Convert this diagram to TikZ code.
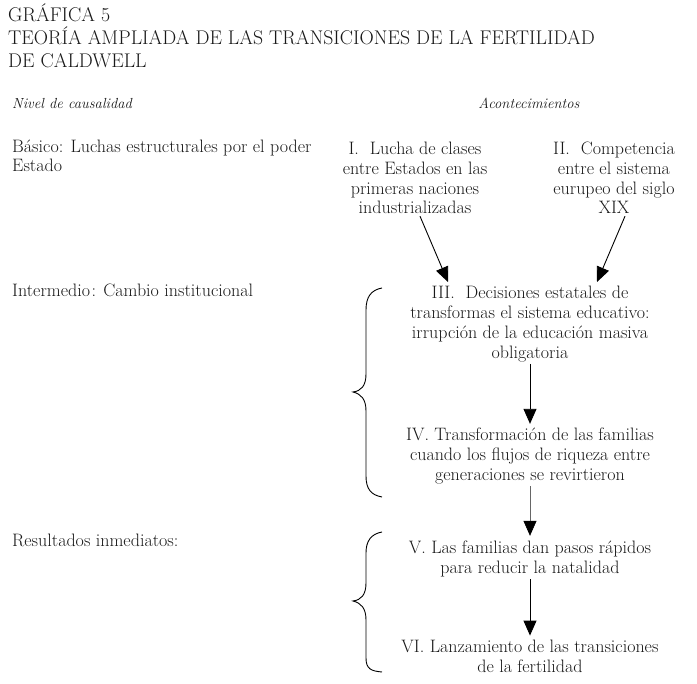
\documentclass[tikz,border=0pt]{standalone}
\usepackage{fontspec}
\usetikzlibrary{arrows.meta}
\begin{document}
\begin{tikzpicture}[x=1pt,y=-1pt,
  body/.style={font=\fontsize{18}{19.8}\selectfont, inner sep=2pt, text=black!90},
  ev/.style={body, align=center},
  lab/.style={body, anchor=base west, inner sep=0pt},
  hd/.style={font=\fontsize{14.6}{19.8}\selectfont\itshape, inner sep=0pt, text=black!90},
  ttl/.style={font=\fontsize{19.8}{22}\selectfont, anchor=base west, inner sep=0pt, text=black!90},
  arr/.style={line width=0.9pt, -{Triangle[width=13pt,length=15pt]}},
  brace/.style={line width=0.9pt}]
\useasboundingbox (0,0) rectangle (697,684);
% title
\node[ttl] (t1) at (8,22) {GRÁFICA 5};
\node[ttl] (t2) at (8,45) {TEORÍA AMPLIADA DE LAS TRANSICIONES DE LA FERTILIDAD};
\node[ttl] (t3) at (8,68) {DE CALDWELL};
% headers
\node[hd, anchor=base west] (h1) at (12,109) {Nivel de causalidad};
\node[hd, anchor=base] (h2) at (529,109) {Acontecimientos};
% levels
\node[lab, align=left] (l1) at (12,172) {Básico: Luchas estructurales por el poder\\Estado};
\node[lab] (l2) at (12,297) {Intermedio\kern1.5pt: Cambio institucional};
\node[lab] (l3) at (12,547) {Resultados inmediatos:};
% events
\node[ev] (I) at (415,178) {I.\ \ Lucha de clases\\entre Estados en las\\primeras naciones\\industrializadas};
\node[ev] (II) at (614,178) {II.\ \ Competencia\\entre el sistema\\eurupeo del siglo\\XIX};
\node[ev] (III) at (530,324) {III.\ \ Decisiones estatales de\\transformas el sistema educativo:\\irrupción de la educación masiva\\obligatoria};
\node[ev] (IV) at (530,456) {IV. Transformación de las familias\\cuando los flujos de riqueza entre\\generaciones se revirtieron};
\node[ev] (V) at (530,559) {V. Las familias dan pasos rápidos\\para reducir la natalidad};
\node[ev] (VI) at (530,656) {VI. Lanzamiento de las transiciones\\de la fertilidad};
% arrows
\draw[arr] ([xshift=5pt]I.south) -- ([xshift=-82pt,yshift=2pt]III.north);
\draw[arr] ([xshift=11pt]II.south) -- ([xshift=67pt,yshift=2pt]III.north);
\draw[arr] (III.south) -- ([yshift=2pt]IV.north);
\draw[line width=0.7pt, draw=black!60, -{Triangle[width=13pt,length=15pt,color=black]}] (IV.south) -- ([yshift=3pt]V.north);
\draw[arr] (V.south) -- ([yshift=2pt]VI.north);
% braces
\draw[brace] (382,288) .. controls (371,290) and (366,297) .. (366,310) -- (366,374)
  .. controls (366,386) and (361,391) .. (353,392)
  .. controls (361,394) and (366,399) .. (366,411) -- (366,476)
  .. controls (366,489) and (371,495) .. (382,497);
\draw[brace] (382,532) .. controls (371,534) and (366,541) .. (366,553) -- (366,583)
  .. controls (366,595) and (361,600) .. (353,601)
  .. controls (361,603) and (366,608) .. (366,620) -- (366,658)
  .. controls (366,669) and (371,671) .. (382,672);
\end{tikzpicture}
\end{document}
